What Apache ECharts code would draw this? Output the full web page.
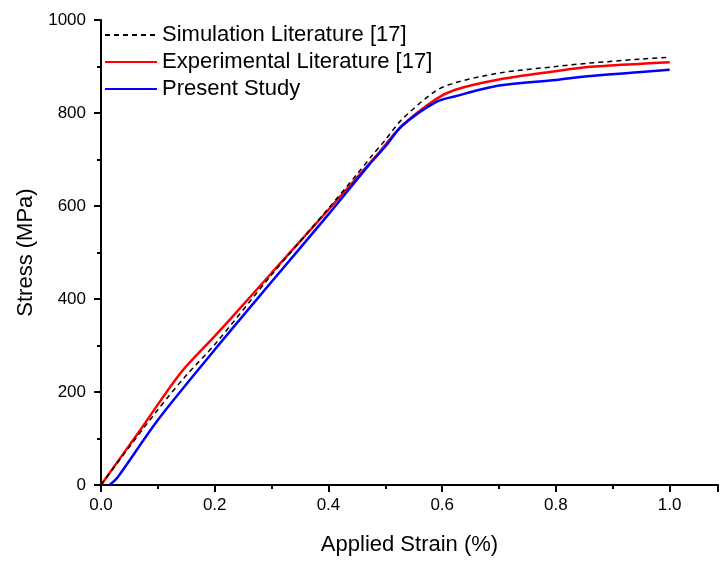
<!DOCTYPE html>
<html>
<head>
<meta charset="utf-8">
<script src="https://cdn.jsdelivr.net/npm/echarts@6/dist/echarts.min.js"></script>
<style>
  html, body { margin: 0; padding: 0; background: #fff; }
  #chart { width: 721px; height: 561px; }
</style>
</head>
<body>
<div id="chart"></div>
<script>
// Stress–strain curves: strain in %, stress in MPa
const simStrain = [0, 0.05, 0.10, 0.15, 0.20, 0.30, 0.40, 0.45, 0.477, 0.50, 0.529, 0.588, 0.623, 0.70, 0.80, 0.856, 0.95, 1.00];
const simStress = [0, 82, 162, 236, 302, 452, 595, 668, 709, 742, 786, 847, 865, 886, 900, 907, 916, 920];

const expStrain = [0, 0.07, 0.14, 0.20, 0.229, 0.30, 0.40, 0.489, 0.529, 0.588, 0.623, 0.70, 0.80, 0.856, 0.95, 1.00];
const expStress = [0, 120, 241, 320, 359, 456, 592, 715, 772, 829, 850, 872, 890, 899, 906, 909];

const preStrain = [0.015, 0.03, 0.10, 0.20, 0.30, 0.40, 0.471, 0.50, 0.529, 0.588, 0.623, 0.70, 0.80, 0.856, 0.95, 1.00];
const preStress = [0, 18, 140, 291, 437, 582, 688, 728, 772, 823, 836, 859, 871, 879, 888, 893];

const seriesNames = ['Simulation Literature [17]', 'Experimental Literature [17]', 'Present Study'];

const xTicks = [0, 0.2, 0.4, 0.6, 0.8, 1.0];
const yTicks = [0, 200, 400, 600, 800, 1000];

const X_MAX = 1.085;

const pair = (xs, ys) => xs.map((x, i) => [x, ys[i]]);

const FONT = '"Liberation Sans", Arial, sans-serif';
const isTick = (list, v) => list.some(t => Math.abs(t - v) < 1e-9);

const nameStyle = { color: '#000', fontSize: 22, fontFamily: FONT };

const chart = echarts.init(document.getElementById('chart'), null, { renderer: 'canvas' });
chart.setOption({
  backgroundColor: '#fff',
  animation: false,
  grid: { left: 101, top: 20, right: 0, bottom: 73, containLabel: false },
  legend: {
    left: 99,
    top: 19,
    orient: 'vertical',
    itemWidth: 52,
    itemHeight: 14,
    itemGap: 5,
    data: seriesNames,
    itemStyle: { opacity: 0 },
    textStyle: { color: '#000', fontSize: 22, fontFamily: FONT, lineHeight: 22, padding: [0, 0, 0, 0] }
  },
  xAxis: [
    {
      // main strain axis: line, labels and long ticks every 0.2
      type: 'value',
      min: 0,
      max: X_MAX,
      interval: 0.2,
      position: 'bottom',
      name: 'Applied Strain (%)',
      nameLocation: 'middle',
      nameGap: 49,
      nameTextStyle: nameStyle,
      axisLine: { show: true, onZero: false, lineStyle: { color: '#000', width: 2 } },
      axisTick: {
        show: true, inside: false, length: 7, lineStyle: { color: '#000', width: 2 },
        interval: (i, v) => isTick(xTicks, Number(v))
      },
      splitLine: { show: false },
      axisLabel: {
        color: '#000', fontSize: 17, fontFamily: FONT, margin: 12,
        formatter: v => (isTick(xTicks, v) ? v.toFixed(1) : '')
      }
    },
    {
      // short ticks every 0.1
      type: 'value',
      min: 0,
      max: X_MAX,
      interval: 0.1,
      position: 'bottom',
      axisLine: { show: false, onZero: false },
      axisTick: { show: true, inside: false, length: 4, lineStyle: { color: '#000', width: 2 } },
      axisLabel: { show: false },
      splitLine: { show: false }
    }
  ],
  yAxis: {
    type: 'value',
    min: 0,
    max: 1000,
    interval: 200,
    name: 'Stress (MPa)',
    nameLocation: 'middle',
    nameGap: 59,
    nameTextStyle: nameStyle,
    axisLine: { show: true, onZero: false, lineStyle: { color: '#000', width: 2 } },
    axisTick: { show: true, inside: false, length: 7, lineStyle: { color: '#000', width: 2 } },
    minorTick: { show: true, splitNumber: 2, length: 4, lineStyle: { color: '#000', width: 2 } },
    splitLine: { show: false },
    axisLabel: {
      color: '#000', fontSize: 17, fontFamily: FONT, margin: 15,
      formatter: v => (yTicks.includes(v) ? String(v) : '')
    }
  },
  series: [
    {
      name: seriesNames[0], type: 'line', data: pair(simStrain, simStress),
      showSymbol: false, symbol: 'none', smooth: 0.3, z: 4,
      lineStyle: { color: '#000', width: 1.5, type: [5, 4] },
      itemStyle: { color: '#000' }
    },
    {
      name: seriesNames[1], type: 'line', data: pair(expStrain, expStress),
      showSymbol: false, symbol: 'none', smooth: 0.3, z: 3,
      lineStyle: { color: '#ff0000', width: 2.5 },
      itemStyle: { color: '#ff0000' }
    },
    {
      name: seriesNames[2], type: 'line', data: pair(preStrain, preStress),
      showSymbol: false, symbol: 'none', smooth: 0.3, z: 3,
      lineStyle: { color: '#0000ff', width: 2.5 },
      itemStyle: { color: '#0000ff' }
    }
  ]
});
</script>
</body>
</html>
